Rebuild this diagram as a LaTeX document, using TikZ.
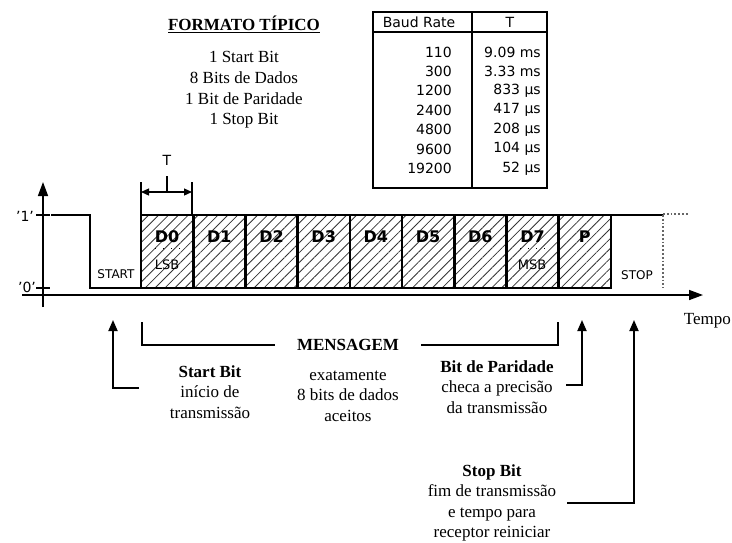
\documentclass[tikz,border=0pt]{standalone}
\usepackage{fontspec}
\setmainfont{Liberation Serif}
\setsansfont{DejaVu Sans}
\usetikzlibrary{arrows.meta,patterns.meta}

\tikzset{
  sig/.style={line width=2.6pt,line cap=rect},
  bitbox/.style={line width=2.6pt,pattern={Lines[angle=45,distance=7pt,line width=.8pt]},pattern color=black!80},
  bitlbl/.style={font=\sffamily\bfseries\fontsize{16}{18}\selectfont},
  small/.style={font=\sffamily\fontsize{12}{14}\selectfont},
  note/.style={font=\rmfamily\fontsize{17}{20.5}\selectfont,align=center},
  pointer/.style={line width=1.8pt,-{Triangle[length=11pt,width=9pt]}},
  axis/.style={line width=1.5pt,-{Triangle[length=14pt,width=10pt]}},
}

\begin{document}
\begin{tikzpicture}[x=1pt,y=-1pt,every node/.style={inner sep=0pt,font=\sffamily\fontsize{14}{16}\selectfont}]
    \useasboundingbox (0,0) rectangle (732,542);
    % typical format
    \node[note,font=\rmfamily\bfseries\fontsize{17}{20}\selectfont] (title) at (244,24) {\underline{FORMATO TÍPICO}};
    \node[note,font=\rmfamily\fontsize{17}{20.7}\selectfont] (fmt) at (244,90) {1 Start Bit\\8 Bits de Dados\\1 Bit de Paridade\\1 Stop Bit};
    % baud rate table
    \draw[line width=2.4pt] (373,12) rectangle (547,188);
    \draw[line width=1.4pt] (373,32) -- (547,32) (472,12) -- (472,188);
    \node (hdrrate) at (419,22) {Baud Rate};
    \node (hdrT) at (510,22) {T};
    \foreach \rate/\per [count=\i from 0] in {110/9.09 ms,300/3.33 ms,1200/833 µs,2400/417 µs,4800/208 µs,9600/104 µs,19200/52 µs}{
      \node[anchor=east] (rate\i) at (452,{52+19.4*\i}) {\rate};
      \node[anchor=east] (per\i) at (541,{52+19.4*\i}) {\per};
    }
    % axes
    \draw[axis] (43,307) -- (43,182);
    \draw[axis] (22,295) -- (703,295);
    \foreach \y in {215,288}{\draw[line width=1.2pt] (36,\y) -- (50,\y);}
    \node (one) at (25,216) {'1'};
    \node (zero) at (27,287) {'0'};
    \node[note,anchor=east] (tempo) at (731,321) {Tempo};
    % signal
    \draw[sig] (52,215) -- (90,215) -- (90,288) -- (141,288);
    \draw[sig] (611,215) -- (663,215);
    \foreach \lbl [count=\i from 0] in {D0,D1,D2,D3,D4,D5,D6,D7,P}{
      \draw[bitbox] ({141+52.2*\i},215) rectangle ({193.2+52.2*\i},288);
      \node[bitlbl] (bit\i) at ({167.1+52.2*\i},237) {\lbl};
    }
    \node[small,font=\sffamily\fontsize{13}{15}\selectfont] (lsb) at (167,265) {LSB};
    \node[small,font=\sffamily\fontsize{13}{15}\selectfont] (msb) at (532,265) {MSB};
    \draw[line width=1pt,dash pattern=on 1pt off 7pt] (155,248) -- (181,248) (520,248) -- (546,248);
    \node[small] (start) at (116,274) {START};
    \node[small] (stop) at (637,275) {STOP};
    \draw[line width=1.8pt,dotted,black!60] (663,215) -- (663,288);
    \draw[line width=1.8pt,dotted,black!60] (663,214) -- (688,214);
    % bit time
    \draw[line width=1.2pt] (141,182) -- (141,215) (192,182) -- (192,215) (167,176) -- (167,192);
    \draw[line width=1.2pt,{Triangle[length=8pt,width=7pt]}-{Triangle[length=8pt,width=7pt]}] (141,192) -- (192,192);
    \node (tlbl) at (167,160) {T};
    % message bracket
    \node[note,font=\rmfamily\bfseries\fontsize{17}{20}\selectfont] (msg) at (348,345) {MENSAGEM};
    \coordinate (msgL) at (142,322);
    \coordinate (msgR) at (558,322);
    \draw[line width=1.4pt] (msgL) |- ([xshift=-22pt]msg.west);
    \draw[line width=1.4pt] (msgR) |- ([xshift=22pt]msg.east);
    \node[note] (msgtxt) at (348,396) {exatamente\\8 bits de dados\\aceitos};
    % start bit
    \node[note] (startnote) at (210,392) {\textbf{Start Bit}\\início de\\transmissão};
    \coordinate (startTip) at (113,320);
    \coordinate (startEnd) at (139,388);
    \draw[pointer] (startEnd) -| (startTip);
    % parity bit
    \node[note] (paritynote) at (497,387) {\textbf{Bit de Paridade}\\checa a precisão\\da transmissão};
    \coordinate (parityTip) at (582,320);
    \coordinate (parityEnd) at (566,385);
    \draw[pointer] (parityEnd) -| (parityTip);
    % stop bit
    \node[note] (stopnote) at (492,503) {\textbf{Stop Bit}\\fim de transmissão\\e tempo para\\receptor reiniciar};
    \coordinate (stopTip) at (634,320);
    \coordinate (stopEnd) at (567,503);
    \draw[pointer] (stopEnd) -| (stopTip);
  \end{tikzpicture}
\end{document}
